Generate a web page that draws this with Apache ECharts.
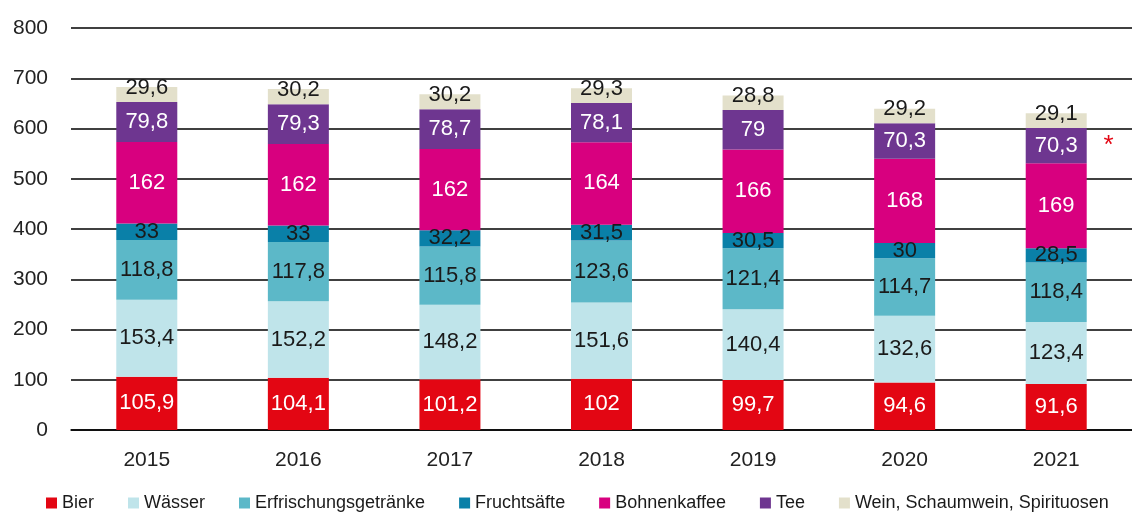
<!DOCTYPE html>
<html>
<head>
<meta charset="utf-8">
<script src="https://cdn.jsdelivr.net/npm/echarts@6/dist/echarts.min.js"></script>
<style>
html,body{margin:0;padding:0;background:#fff;}
#chart{width:1132px;height:514px;}
</style>
</head>
<body>
<div id="chart"></div>
<script>
var years = ['2015', '2016', '2017', '2018', '2019', '2020', '2021'];
var bier = [105.9, 104.1, 101.2, 102, 99.7, 94.6, 91.6];
var waesser = [153.4, 152.2, 148.2, 151.6, 140.4, 132.6, 123.4];
var erfrischung = [118.8, 117.8, 115.8, 123.6, 121.4, 114.7, 118.4];
var fruchtsaefte = [33, 33, 32.2, 31.5, 30.5, 30, 28.5];
var kaffee = [162, 162, 162, 164, 166, 168, 169];
var tee = [79.8, 79.3, 78.7, 78.1, 79, 70.3, 70.3];
var wein = [29.6, 30.2, 30.2, 29.3, 28.8, 29.2, 29.1];
var yTicks = [0, 100, 200, 300, 400, 500, 600, 700, 800];

var FONT = "'Liberation Sans', Arial, sans-serif";
var fmt = function (v) { return String(v).replace('.', ','); };

function serie(name, data, color, labelColor, extra) {
    var s = {
        name: name,
        type: 'bar',
        stack: 'total',
        barWidth: 61,
        data: data,
        itemStyle: { color: color },
        label: {
            show: true,
            position: 'inside',
            color: labelColor,
            fontFamily: FONT,
            fontSize: 22,
            formatter: function (p) { return fmt(p.value); }
        }
    };
    if (extra) extra(s);
    return s;
}

var chart = echarts.init(document.getElementById('chart'));
chart.setOption({
    animation: false,
    textStyle: { fontFamily: FONT },
    grid: { left: 71, right: -13, top: 28, bottom: 84 },
    legend: {
        bottom: -3,
        left: 41,
        icon: 'rect',
        itemWidth: 11,
        itemHeight: 11,
        itemGap: 34,
        textStyle: { fontFamily: FONT, fontSize: 18, color: '#1a1a1a' },
        data: ['Bier', 'Wässer', 'Erfrischungsgetränke', 'Fruchtsäfte', 'Bohnenkaffee', 'Tee', 'Wein, Schaumwein, Spirituosen']
    },
    xAxis: {
        type: 'category',
        data: years,
        axisTick: { show: false },
        axisLine: { lineStyle: { color: '#000', width: 1.5 } },
        axisLabel: { color: '#222', fontSize: 21, fontFamily: FONT, margin: 20 }
    },
    yAxis: {
        type: 'value',
        min: 0,
        max: 800,
        interval: 100,
        axisLine: { show: false },
        axisTick: { show: false },
        splitLine: { lineStyle: { color: '#000', width: 1.5 } },
        axisLabel: {
            color: '#222', fontSize: 21, fontFamily: FONT, margin: 23,
            formatter: function (v) { return yTicks.indexOf(v) >= 0 ? String(v) : ''; }
        }
    },
    series: [
        serie('Bier', bier, '#e30613', '#fff'),
        serie('Wässer', waesser, '#bfe4ea', '#1a1a1a'),
        serie('Erfrischungsgetränke', erfrischung, '#5cb8c8', '#1a1a1a'),
        serie('Fruchtsäfte', fruchtsaefte, '#0a80a8', '#1a1a1a'),
        serie('Bohnenkaffee', kaffee, '#d8007f', '#fff'),
        serie('Tee', tee, '#6e3690', '#fff', function (s) {
            s.label.formatter = function (p) {
                if (p.dataIndex === years.length - 1) return '{p|}{n|' + fmt(p.value) + '}{a|*}';
                return fmt(p.value);
            };
            s.label.rich = {
                p: { width: 36 },
                n: { color: '#fff', fontSize: 22, fontFamily: FONT },
                a: { width: 36, align: 'right', color: '#e30613', fontSize: 26, fontFamily: FONT }
            };
        }),
        serie('Wein, Schaumwein, Spirituosen', wein, '#e3e0cb', '#1a1a1a', function (s) {
            s.label.offset = [0, -7];
        })
    ]
});
</script>
</body>
</html>
